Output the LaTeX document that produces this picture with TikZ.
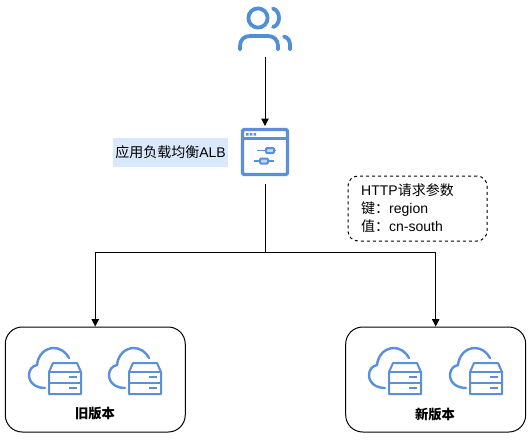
\documentclass[tikz,border=0pt]{standalone}
\usepackage{fontspec}
\setmainfont{Liberation Sans}
\newfontfamily\cjk{Noto Sans CJK SC}
\usetikzlibrary{arrows.meta}
\definecolor{iconblue}{HTML}{4F8FD6}
\definecolor{cloudblue}{HTML}{5B8FD9}
\definecolor{lblfill}{HTML}{DAE8FC}
\tikzset{
  x=1pt,y=-1pt,
  conn/.style={draw=black,line width=1pt,-{Triangle[length=7.5pt,width=7.5pt]}},
  groupbox/.style={draw=black,line width=1pt,rounded corners=17pt,minimum width=180pt,minimum height=105pt,inner sep=0pt},
  notebox/.style={draw=black,line width=1pt,dash pattern=on 3pt off 3pt,rounded corners=10pt,minimum width=139pt,minimum height=65pt,inner sep=0pt},
  notetxt/.style={anchor=west,inner sep=0pt,align=left,font=\fontsize{14}{18}\selectfont},
  albbox/.style={fill=lblfill,minimum width=115pt,minimum height=29pt,inner sep=0pt,font=\fontsize{14}{16}\selectfont},
  grouplbl/.style={inner sep=0pt,font=\fontsize{13.3}{16}\selectfont},
  hidden/.style={inner sep=0pt,outer sep=0pt},
  cloudicon/.pic={
    \draw[cloudblue,line width=2.4pt,line cap=round]
      (16,41) .. controls (7,41) and (0,36) .. (0,28)
      .. controls (0,23) and (3,19) .. (8,18)
      .. controls (9,8) and (16,1) .. (25,1)
      .. controls (31,1) and (37,5) .. (40,11);
    \draw[cloudblue,line width=2pt,line join=round,fill=white]
      (20,25) -- (24,16) -- (48,16) -- (52,25) -- (52,47) -- (20,47) -- cycle;
    \draw[cloudblue,line width=2pt] (20,25) -- (52,25) (20,35.5) -- (52,35.5);
    \draw[cloudblue,line width=2pt] (40,30) -- (48,30) (40,41) -- (48,41);
  },
}
\begin{document}
\begin{tikzpicture}
\useasboundingbox (0,0) rectangle (532,440);
% user icon
\node[hidden,minimum width=54pt,minimum height=60pt] (user) at (265,27) {};
\draw[iconblue,line width=3.8pt] (258,18) circle[radius=9.6pt];
\draw[iconblue,line width=3.8pt,line cap=round]
  (240,49.5) -- (240,46) .. controls (240,40) and (244,36) .. (250,36)
  -- (268,36) .. controls (274,36) and (278,40) .. (278,46) -- (278,49.5);
\draw[iconblue,line width=3.8pt,line cap=round]
  (273,8.5) .. controls (281,11) and (281,25) .. (273,27);
\draw[iconblue,line width=3.8pt,line cap=round]
  (284,36.5) .. controls (288,37.5) and (290,41) .. (290,45) -- (290,49.5);
% ALB icon
\node[hidden,minimum width=48pt,minimum height=52pt] (alb) at (265,152) {};
\draw[cloudblue,line width=3.2pt,rounded corners=1.5pt] (242.5,129.5) rectangle (287.5,174.5);
\draw[cloudblue,line width=2.2pt] (242,138.5) -- (288,138.5);
\fill[cloudblue] (246,133) rectangle (248.5,135.5) (249.8,133) rectangle (252.3,135.5) (253.6,133) rectangle (256.1,135.5);
\draw[cloudblue,line width=1.8pt] (257,150.5) -- (276,150.5) (254,161) -- (274,161);
\draw[cloudblue,line width=2pt,fill=cloudblue!35,rounded corners=1pt] (266,148) rectangle (274,153) (260,158.5) rectangle (268,163.5);
% label
\node[albbox] (albl) at (170.5,152.5) {{\cjk 应用负载均衡}ALB};
% note
\node[notebox] (note) at (417.5,208.5) {};
\node[notetxt] (notetext) at (361,208) {HTTP{\cjk 请求参数}\\{\cjk 键：}region\\{\cjk 值：}cn-south};
% groups
\node[groupbox] (old) at (95.25,379.5) {};
\node[groupbox] (new) at (435.7,379.5) {};
\node[grouplbl] (oldl) at (95,414) {\cjk\bfseries 旧版本};
\node[grouplbl] (newl) at (435,414) {\cjk\bfseries 新版本};
\pic at (29,347) {cloudicon};
\pic at (109,347) {cloudicon};
\pic at (369,347) {cloudicon};
\pic at (450,347) {cloudicon};
% connectors
\coordinate (junction) at (265,252);
\draw[conn] (user.south) -- (alb.north);
\draw[draw=black,line width=1pt,shorten <=6pt] (alb.south) -- (junction);
\draw[conn] (junction) -| (old.north);
\draw[conn] (junction) -| (new.north);
\end{tikzpicture}
\end{document}
